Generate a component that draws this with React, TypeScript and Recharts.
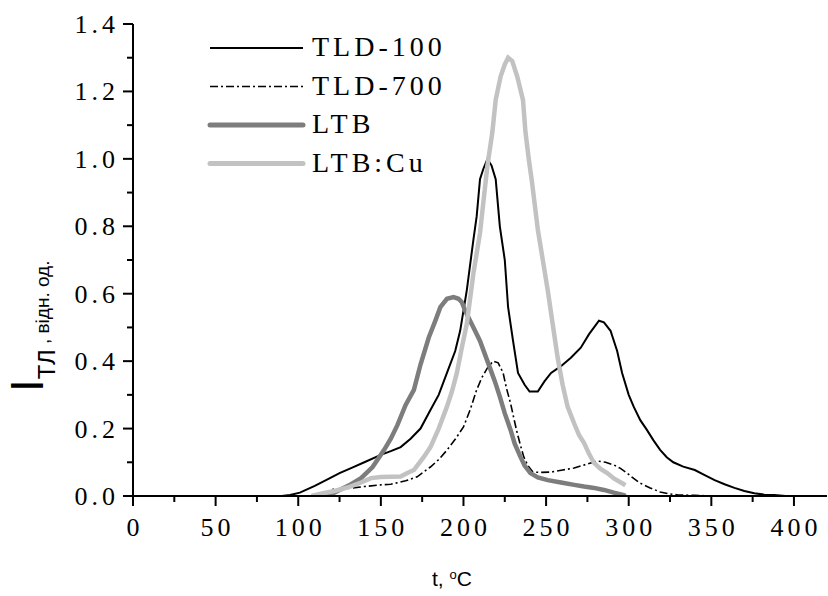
import { LineChart, Line, XAxis, YAxis } from 'recharts';

// TL glow curves, temperature (°C) and intensity (rel. units)
const tld100Temp = [90, 95, 101, 110, 118, 125, 133, 140, 150, 156, 162, 168, 174, 180, 185, 190, 195, 198, 202, 206, 208, 210, 212, 214.5, 217, 219.5, 222, 225, 227, 230, 233, 237, 240, 245, 249, 253, 259, 265, 271, 276, 282, 285, 289, 293, 296, 300, 303, 307, 311, 315, 319, 323, 327, 333, 340, 346, 352, 358, 364, 370, 376, 382, 388, 395];
const tld100Val = [0, 0.003, 0.01, 0.03, 0.05, 0.068, 0.085, 0.1, 0.122, 0.133, 0.145, 0.17, 0.2, 0.255, 0.3, 0.365, 0.43, 0.49, 0.61, 0.76, 0.83, 0.94, 0.97, 1.0, 0.98, 0.94, 0.8, 0.7, 0.56, 0.46, 0.365, 0.33, 0.31, 0.31, 0.34, 0.365, 0.385, 0.41, 0.44, 0.48, 0.52, 0.515, 0.49, 0.43, 0.365, 0.3, 0.265, 0.225, 0.196, 0.165, 0.137, 0.115, 0.1, 0.087, 0.077, 0.062, 0.047, 0.035, 0.024, 0.015, 0.008, 0.004, 0.003, 0];

const tld700Temp = [115, 121, 131, 140, 150, 156, 165, 172, 180, 185, 190, 195, 200, 204, 208, 211, 214.5, 218, 221, 224, 226, 228.5, 230.5, 232.5, 234.5, 236.5, 239, 242, 247, 253, 260, 267, 275, 281, 286, 291, 295, 299, 303, 307, 313, 319, 325, 330, 340, 350];
const tld700Val = [0, 0.02, 0.023, 0.028, 0.033, 0.035, 0.045, 0.057, 0.086, 0.108, 0.136, 0.168, 0.205, 0.255, 0.315, 0.35, 0.38, 0.4, 0.395, 0.365, 0.32, 0.275, 0.23, 0.187, 0.15, 0.116, 0.09, 0.071, 0.07, 0.071, 0.077, 0.083, 0.095, 0.104, 0.1, 0.092, 0.082, 0.068, 0.052, 0.038, 0.024, 0.012, 0.006, 0.003, 0.002, 0];

const ltbTemp = [118, 125, 132, 138, 145, 152, 156, 160, 165, 170, 174, 179, 183, 186, 190, 194, 197, 199, 201, 204, 207, 210, 213, 216, 219, 222, 225, 228.5, 231, 234.5, 237, 240.5, 245, 251, 259, 267, 273, 279, 285, 291, 297, 298];
const ltbVal = [0, 0.018, 0.035, 0.053, 0.086, 0.137, 0.17, 0.21, 0.27, 0.315, 0.39, 0.47, 0.52, 0.56, 0.585, 0.59, 0.585, 0.575, 0.55, 0.52, 0.49, 0.46, 0.42, 0.38, 0.34, 0.295, 0.245, 0.196, 0.155, 0.116, 0.09, 0.068, 0.055, 0.047, 0.04, 0.033, 0.028, 0.024, 0.018, 0.01, 0.003, 0];

const ltbCuTemp = [108, 115, 122, 131, 138, 144, 150, 156, 162, 166, 170, 176, 180, 185, 190, 193, 196, 199, 202, 206, 208, 210, 212, 214.5, 217.5, 219.5, 222.5, 225, 227, 229.5, 232.5, 236, 237.5, 239.5, 241.5, 245, 248, 251, 254, 257, 260, 263, 267, 270, 273, 276, 279, 283, 287, 291, 296, 298];
const ltbCuVal = [0, 0.008, 0.015, 0.027, 0.04, 0.053, 0.056, 0.057, 0.058, 0.068, 0.077, 0.116, 0.145, 0.2, 0.265, 0.31, 0.365, 0.44, 0.51, 0.66, 0.72, 0.78, 0.87, 0.98, 1.08, 1.175, 1.245, 1.28, 1.3, 1.29, 1.245, 1.175, 1.08, 1.0, 0.93, 0.79, 0.7, 0.61, 0.51, 0.41, 0.33, 0.265, 0.215, 0.18, 0.157, 0.125, 0.098, 0.08, 0.068, 0.052, 0.038, 0.032];

const xTicks = [0, 25, 50, 75, 100, 125, 150, 175, 200, 225, 250, 275, 300, 325, 350, 375, 400];
const yTicks = [0, 0.1, 0.2, 0.3, 0.4, 0.5, 0.6, 0.7, 0.8, 0.9, 1.0, 1.1, 1.2, 1.3, 1.4];

const zip = (ts: number[], vs: number[]) => ts.map((t, i) => ({ t, v: vs[i] }));

const series = [
  { name: 'TLD-100', data: zip(tld100Temp, tld100Val), color: '#000', width: 2, dash: undefined as string | undefined },
  { name: 'TLD-700', data: zip(tld700Temp, tld700Val), color: '#000', width: 1.6, dash: '8 3 2 3' },
  { name: 'LTB', data: zip(ltbTemp, ltbVal), color: '#7d7d7d', width: 4.5, dash: undefined },
  { name: 'LTB:Cu', data: zip(ltbCuTemp, ltbCuVal), color: '#c2c2c2', width: 4.5, dash: undefined },
];

const serif = '"Liberation Serif", "Times New Roman", serif';
const sans = '"Liberation Sans", Arial, sans-serif';

const XTick = ({ x, y, payload }: any) => {
  const v = payload.value;
  const major = v % 50 === 0;
  return (
    <g>
      <line x1={x} x2={x} y1={y} y2={y + (major ? 10 : 6)} stroke="#000" strokeWidth={2} />
      {major && (
        <text x={x + 2} y={y + 40} textAnchor="middle" fontFamily={serif} fontSize={26} letterSpacing={4} fill="#000">
          {v}
        </text>
      )}
    </g>
  );
};

const YTick = ({ x, y, payload }: any) => {
  const v = payload.value;
  const major = Math.round(v * 10) % 2 === 0;
  return (
    <g>
      <line x1={x - (major ? 10 : 6)} x2={x} y1={y} y2={y} stroke="#000" strokeWidth={2} />
      {major && (
        <text x={x - 14} y={y + 9} textAnchor="end" fontFamily={serif} fontSize={26} letterSpacing={4} fill="#000">
          {v.toFixed(1)}
        </text>
      )}
    </g>
  );
};

const App = () => {
  return (
    <div style={{ position: 'absolute', left: 0, top: 0, width: 828, height: 596, background: '#fff' }}>
      <LineChart width={828} height={596} margin={{ top: 24, right: 1, left: 0, bottom: 0 }}>
        <XAxis
          dataKey="t"
          type="number"
          domain={[0, 420]}
          ticks={xTicks}
          interval={0}
          height={100}
          tickSize={0}
          tickMargin={0}
          tick={<XTick />}
          axisLine={{ stroke: '#000', strokeWidth: 2 }}
          allowDataOverflow
        />
        <YAxis
          type="number"
          domain={[0, 1.4]}
          ticks={yTicks}
          interval={0}
          width={133}
          tickSize={0}
          tickMargin={0}
          tick={<YTick />}
          axisLine={{ stroke: '#000', strokeWidth: 2 }}
          allowDataOverflow
        />
        {series.map((s) => (
          <Line
            key={s.name}
            data={s.data}
            dataKey="v"
            name={s.name}
            type="linear"
            stroke={s.color}
            strokeWidth={s.width}
            strokeDasharray={s.dash}
            dot={false}
            activeDot={false}
            isAnimationActive={false}
          />
        ))}
      </LineChart>
      <svg width={828} height={596} style={{ position: 'absolute', left: 0, top: 0, pointerEvents: 'none' }}>
        {series.map((s, i) => {
          const ly = 48 + i * 38.5;
          return (
            <g key={s.name}>
              <line
                x1={210}
                x2={303}
                y1={ly}
                y2={ly}
                stroke={s.color}
                strokeWidth={s.width + (s.width > 3 ? 0.5 : 0)}
                strokeDasharray={s.dash}
                strokeLinecap={s.width > 3 ? 'round' : 'butt'}
              />
              <text x={312} y={ly + 8} fontFamily={serif} fontSize={28} letterSpacing={4} fill="#000">
                {s.name}
              </text>
            </g>
          );
        })}
        <text x={452} y={586} textAnchor="middle" fontFamily={sans} fontSize={21} fill="#000">
          t,{' '}
          <tspan fontSize={13} dy={-7}>o</tspan>
          <tspan dy={7}>C</tspan>
        </text>
        <text transform="translate(43,392) rotate(-90)" fontFamily={sans} fill="#000">
          <tspan fontSize={46}>I</tspan>
          <tspan fontSize={24} dy={12}>ТЛ</tspan>
          <tspan fontSize={19} dy={-6}> , відн. од.</tspan>
        </text>
      </svg>
    </div>
  );
};

export default App;
